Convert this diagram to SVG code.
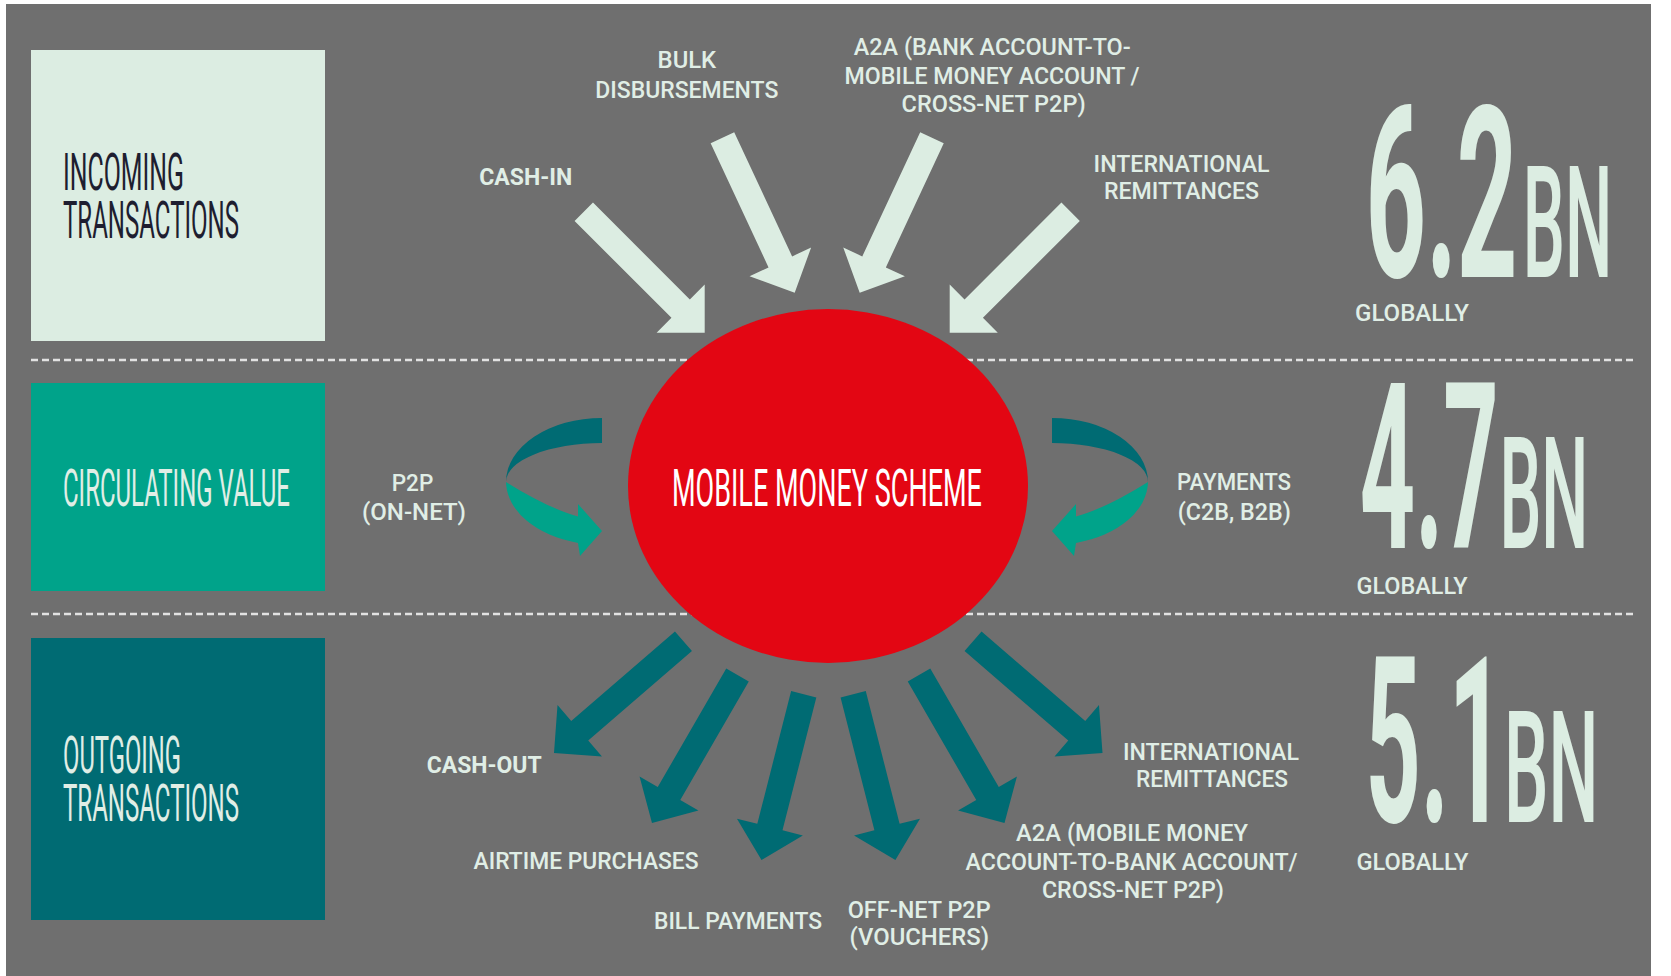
<svg xmlns="http://www.w3.org/2000/svg" width="1671" height="976" viewBox="0 0 1671 976">
<style>
.lbl{font-family:Roboto,"Liberation Sans",sans-serif;font-size:24px;font-weight:500;fill:#e0eee6}
.bold{font-weight:700}
.big{font-family:Roboto,"Liberation Sans",sans-serif;font-size:51px;font-weight:400}
.num{font-family:Roboto,"Liberation Sans",sans-serif;font-weight:700;fill:#dcede2}
.unit{font-family:Roboto,"Liberation Sans",sans-serif;font-weight:500;fill:#dcede2}
.dash{stroke:#e2e2e2;stroke-width:2.5;stroke-dasharray:7 4;fill:none}
.inarrow{fill:#dcede2}
.outarrow{fill:#006b73}
.dark{fill:#006b73}
.light{fill:#00a38a}
</style>
<defs>
<polygon id="arr" points="-171,-13 -34,-13 -34,-34 0,0 -34,34 -34,13 -171,13"/>
<g id="loop">
<path class="dark" d="M602,418 A96,64 0 0 0 506,482 A96,39 0 0 1 602,443 Z"/>
<path class="light" d="M506,482 A96,64 0 0 0 578,543 L580,556 L602,531 L578,504 L578,516.5 C555,510 530,497 506,482 Z"/>
</g>
</defs>
<rect x="0" y="0" width="1671" height="976" fill="#ffffff"/>
<rect x="6" y="4" width="1645" height="972" fill="#6f6f6f"/>
<g id="dividers">
<line class="dash" x1="31" y1="360" x2="1633" y2="360"/>
<line class="dash" x1="31" y1="614" x2="1633" y2="614"/>
</g>
<g id="incoming">
<rect x="31" y="50" width="294" height="291" fill="#dcede2"/>
<text class="big" fill="#1e1e30" transform="translate(63,190) scale(0.4873,1)" textLength="248.3" lengthAdjust="spacingAndGlyphs">INCOMING</text>
<text class="big" fill="#1e1e30" transform="translate(63,238) scale(0.4702,1)" textLength="374.3" lengthAdjust="spacingAndGlyphs">TRANSACTIONS</text>
</g>
<g id="circulating">
<rect x="31" y="383" width="294" height="208" fill="#00a38a"/>
<text class="big" fill="#e0eee6" font-size="49" transform="translate(63,506) scale(0.4831,1)" textLength="469.9" lengthAdjust="spacingAndGlyphs">CIRCULATING VALUE</text>
</g>
<g id="outgoing">
<rect x="31" y="638" width="294" height="282" fill="#006b73"/>
<text class="big" fill="#e0eee6" transform="translate(63,773) scale(0.4651,1)" textLength="253.7" lengthAdjust="spacingAndGlyphs">OUTGOING</text>
<text class="big" fill="#e0eee6" transform="translate(63,821) scale(0.4702,1)" textLength="374.3" lengthAdjust="spacingAndGlyphs">TRANSACTIONS</text>
</g>
<g id="scheme">
<ellipse cx="828" cy="486" rx="200" ry="177" fill="#e30613"/>
<text class="big" fill="#ffffff" font-size="55" transform="translate(672,506) scale(0.4907,1)" textLength="631.7" lengthAdjust="spacingAndGlyphs">MOBILE MONEY SCHEME</text>
</g>
<g id="connectors">
<use href="#arr" class="inarrow" transform="translate(704.7,332.7) rotate(45)"/>
<use href="#arr" class="inarrow" transform="translate(794.7,292.7) rotate(65)"/>
<use href="#arr" class="inarrow" transform="translate(859.7,292.7) rotate(115)"/>
<use href="#arr" class="inarrow" transform="translate(949.7,332.7) rotate(135)"/>
<use href="#arr" class="outarrow" transform="translate(554,753) rotate(139.2)"/>
<use href="#arr" class="outarrow" transform="translate(652,823) rotate(120)"/>
<use href="#arr" class="outarrow" transform="translate(761.5,860) rotate(104.3)"/>
<use href="#arr" class="outarrow" transform="translate(895.4,860) rotate(75.7)"/>
<use href="#arr" class="outarrow" transform="translate(1004.5,823) rotate(60)"/>
<use href="#arr" class="outarrow" transform="translate(1102.5,753) rotate(40.8)"/>
<use href="#loop"/>
<use href="#loop" transform="translate(1654,0) scale(-1,1)"/>
</g>
<g id="label-bulk">
<text class="lbl" x="657.6" y="68" textLength="58.6" lengthAdjust="spacingAndGlyphs">BULK</text>
<text class="lbl" x="595.3" y="98" textLength="183" lengthAdjust="spacingAndGlyphs">DISBURSEMENTS</text>
</g>
<g id="label-cashin">
<text class="lbl bold" x="479.2" y="185" textLength="93" lengthAdjust="spacingAndGlyphs">CASH-IN</text>
</g>
<g id="label-a2a-in">
<text class="lbl" x="853.7" y="55" textLength="277" lengthAdjust="spacingAndGlyphs">A2A (BANK ACCOUNT-TO-</text>
<text class="lbl" x="844.6" y="84" textLength="295" lengthAdjust="spacingAndGlyphs">MOBILE MONEY ACCOUNT /</text>
<text class="lbl" x="901.6" y="112" textLength="184" lengthAdjust="spacingAndGlyphs">CROSS-NET P2P)</text>
</g>
<g id="label-intl-in">
<text class="lbl" x="1093.6" y="171.5" textLength="176" lengthAdjust="spacingAndGlyphs">INTERNATIONAL</text>
<text class="lbl" x="1104" y="199" textLength="155" lengthAdjust="spacingAndGlyphs">REMITTANCES</text>
</g>
<g id="label-p2p">
<text class="lbl" x="391.7" y="490.5" textLength="41.6" lengthAdjust="spacingAndGlyphs">P2P</text>
<text class="lbl" x="362" y="520" textLength="104" lengthAdjust="spacingAndGlyphs">(ON-NET)</text>
</g>
<g id="label-payments">
<text class="lbl" x="1177" y="490" textLength="114" lengthAdjust="spacingAndGlyphs">PAYMENTS</text>
<text class="lbl" x="1177.8" y="520" textLength="113" lengthAdjust="spacingAndGlyphs">(C2B, B2B)</text>
</g>
<g id="label-cashout">
<text class="lbl bold" x="426.7" y="773" textLength="115" lengthAdjust="spacingAndGlyphs">CASH-OUT</text>
</g>
<g id="label-airtime">
<text class="lbl" x="473.6" y="869.3" textLength="225" lengthAdjust="spacingAndGlyphs">AIRTIME PURCHASES</text>
</g>
<g id="label-bill">
<text class="lbl" x="654" y="929.3" textLength="168" lengthAdjust="spacingAndGlyphs">BILL PAYMENTS</text>
</g>
<g id="label-offnet">
<text class="lbl" x="847.7" y="917.7" textLength="143" lengthAdjust="spacingAndGlyphs">OFF-NET P2P</text>
<text class="lbl" x="849.5" y="944.5" textLength="139.5" lengthAdjust="spacingAndGlyphs">(VOUCHERS)</text>
</g>
<g id="label-a2a-out">
<text class="lbl" x="1016" y="841" textLength="232" lengthAdjust="spacingAndGlyphs">A2A (MOBILE MONEY</text>
<text class="lbl" x="965.6" y="869.5" textLength="332" lengthAdjust="spacingAndGlyphs">ACCOUNT-TO-BANK ACCOUNT/</text>
<text class="lbl" x="1041.9" y="897.5" textLength="182" lengthAdjust="spacingAndGlyphs">CROSS-NET P2P)</text>
</g>
<g id="label-intl-out">
<text class="lbl" x="1122.9" y="759.7" textLength="176" lengthAdjust="spacingAndGlyphs">INTERNATIONAL</text>
<text class="lbl" x="1136" y="787.3" textLength="152" lengthAdjust="spacingAndGlyphs">REMITTANCES</text>
</g>
<g id="stat-incoming">
<text class="num" font-size="239" transform="translate(1365.5,276.7) scale(0.4565,1)" textLength="333" lengthAdjust="spacingAndGlyphs">6.2</text>
<text class="unit" font-size="155" transform="translate(1522.8,276.7) scale(0.4303,1)" textLength="208" lengthAdjust="spacingAndGlyphs">BN</text>
<text class="lbl" x="1355" y="320.7" textLength="114" lengthAdjust="spacingAndGlyphs">GLOBALLY</text>
</g>
<g id="stat-circulating">
<text class="num" font-size="232" transform="translate(1359.8,548.3) scale(0.4292,1)" textLength="323.4" lengthAdjust="spacingAndGlyphs">4.7</text>
<text class="unit" font-size="155" transform="translate(1499.4,548.3) scale(0.4279,1)" textLength="208" lengthAdjust="spacingAndGlyphs">BN</text>
<text class="lbl" x="1356.5" y="593.5" textLength="111" lengthAdjust="spacingAndGlyphs">GLOBALLY</text>
</g>
<g id="stat-outgoing">
<text class="num" font-size="233" transform="translate(1365.5,822.3) scale(0.4267,1)" textLength="324.8" lengthAdjust="spacingAndGlyphs">5.1</text>
<text class="unit" font-size="156" transform="translate(1504,822.3) scale(0.4522,1)" textLength="209" lengthAdjust="spacingAndGlyphs">BN</text>
<text class="lbl" x="1356.4" y="869.7" textLength="112" lengthAdjust="spacingAndGlyphs">GLOBALLY</text>
</g>
</svg>
